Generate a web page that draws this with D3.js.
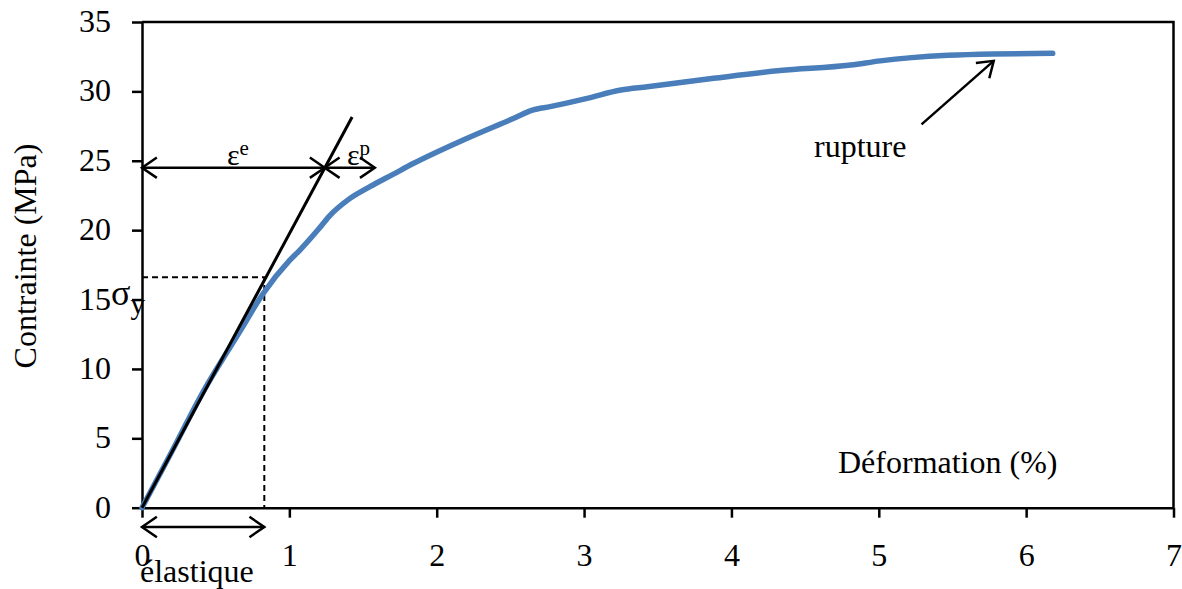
<!DOCTYPE html>
<html>
<head>
<meta charset="utf-8">
<script src="https://cdn.jsdelivr.net/npm/d3@7"></script>
<style>
  body { margin: 0; background: #fff; }
  svg { display: block; font-family: "Liberation Serif", "Times New Roman", serif; }
</style>
</head>
<body>
<script>
// stress-strain curve
const strain = [0, 0.2, 0.41, 0.67, 0.82, 1.0, 1.07, 1.2, 1.27, 1.4, 1.55, 1.7, 1.84, 2.18, 2.52, 2.65, 2.77, 3.02, 3.25, 3.43, 3.88, 4.33, 4.81, 5.01, 5.47, 5.78, 6.18];
const stress = [0, 4.0, 8.26, 12.8, 15.4, 17.8, 18.55, 20.1, 21.0, 22.2, 23.15, 24.0, 24.8, 26.5, 28.05, 28.65, 28.9, 29.5, 30.1, 30.33, 30.94, 31.5, 31.9, 32.2, 32.6, 32.7, 32.74];

const xTicks = [0, 1, 2, 3, 4, 5, 6, 7];
const yTicks = [0, 5, 10, 15, 20, 25, 30, 35];

// elastic tangent line and construction marks
const tangentX = [0, 1.426];
const tangentY = [0, 28.15];
const yieldPoint = [0.83, 16.6];
const epsLevel = 24.5;
const epsSplit = 1.24;
const epsPEnd = 1.58;
const ruptureFrom = [5.29, 27.62];
const ruptureTo = [5.78, 32.2];

const W = 1182, H = 589;
const x = d3.scaleLinear().domain([0, 7]).range([142, 1173.5]);
const y = d3.scaleLinear().domain([0, 35]).range([507.7, 22]);

const svg = d3.select("body").append("svg")
    .attr("width", W)
    .attr("height", H);

const fs = 32;

// frame (top + right)
svg.append("path")
    .attr("d", `M${x(0)},${y(35)}H${x(7)}V${y(0)}`)
    .attr("fill", "none")
    .attr("stroke", "#000")
    .attr("stroke-width", 2.5);

const gx = svg.append("g")
    .attr("transform", `translate(0,${y(0)})`)
    .call(d3.axisBottom(x).tickValues(xTicks).tickSize(10).tickSizeOuter(0).tickFormat(d3.format("d")));
gx.selectAll("text").attr("y", 58).attr("dy", 0);

const gy = svg.append("g")
    .attr("transform", `translate(${x(0)},0)`)
    .call(d3.axisLeft(y).tickValues(yTicks).tickSize(10).tickSizeOuter(0).tickPadding(21));

[gx, gy].forEach(g => {
    g.select(".domain").attr("stroke-width", 2.5);
    g.selectAll(".tick line").attr("stroke-width", 2.5);
    g.selectAll("text").attr("font-size", fs).attr("font-family", "Liberation Serif").attr("fill", "#000");
});
gy.selectAll("text").attr("dy", "0.3em");

// axis titles
svg.append("text")
    .attr("transform", `translate(36,256) rotate(-90)`)
    .attr("text-anchor", "middle")
    .attr("font-size", fs)
    .text("Contrainte (MPa)");

svg.append("text")
    .attr("x", 838).attr("y", 473)
    .attr("font-size", fs)
    .text("Déformation (%)");

// dashed yield lines
svg.append("path")
    .attr("d", `M${x(0)},${y(yieldPoint[1])}H${x(yieldPoint[0])}V${y(0)}`)
    .attr("fill", "none")
    .attr("stroke", "#000")
    .attr("stroke-width", 2)
    .attr("stroke-dasharray", "6,4");

// data curve
const line = d3.line().x(d => x(d[0])).y(d => y(d[1])).curve(d3.curveMonotoneX);
svg.append("path")
    .datum(strain.map((s, i) => [s, stress[i]]))
    .attr("d", line)
    .attr("fill", "none")
    .attr("stroke", "#4A7EBB")
    .attr("stroke-width", 5.5)
    .attr("stroke-linejoin", "round")
    .attr("stroke-linecap", "round");

// elastic tangent
svg.append("line")
    .attr("x1", x(tangentX[0])).attr("y1", y(tangentY[0]))
    .attr("x2", x(tangentX[1])).attr("y2", y(tangentY[1]))
    .attr("stroke", "#000")
    .attr("stroke-width", 3);

// open arrow helper
function arrowHead(px, py, angle) {
    const len = 18, spread = 0.6;
    const p = d3.path();
    p.moveTo(px + len * Math.cos(angle + Math.PI - spread), py + len * Math.sin(angle + Math.PI - spread));
    p.lineTo(px, py);
    p.lineTo(px + len * Math.cos(angle + Math.PI + spread), py + len * Math.sin(angle + Math.PI + spread));
    return p.toString();
}

function arrow(x1, y1, x2, y2, both) {
    const a = Math.atan2(y2 - y1, x2 - x1);
    const g = svg.append("g")
        .attr("fill", "none")
        .attr("stroke", "#000")
        .attr("stroke-width", 2.5);
    g.append("line").attr("x1", x1).attr("y1", y1).attr("x2", x2).attr("y2", y2);
    g.append("path").attr("d", arrowHead(x2, y2, a));
    if (both) g.append("path").attr("d", arrowHead(x1, y1, a + Math.PI));
}

arrow(x(0), y(epsLevel), x(epsSplit), y(epsLevel), true);
arrow(x(epsSplit), y(epsLevel), x(epsPEnd), y(epsLevel), true);
arrow(x(0), 527, x(yieldPoint[0]), 527, true);
arrow(x(ruptureFrom[0]), y(ruptureFrom[1]), x(ruptureTo[0]), y(ruptureTo[1]), false);

// labels
const epsE = svg.append("text").attr("x", 227).attr("y", 165).attr("font-size", 30);
epsE.append("tspan").text("ε");
epsE.append("tspan").attr("font-size", 21).attr("dy", -10).text("e");

const epsP = svg.append("text").attr("x", 347).attr("y", 165).attr("font-size", 30);
epsP.append("tspan").text("ε");
epsP.append("tspan").attr("font-size", 21).attr("dy", -10).text("p");

const sig = svg.append("text").attr("x", 111).attr("y", 305).attr("font-size", 36);
sig.append("tspan").text("σ");
sig.append("tspan").attr("font-size", 29).attr("dy", 9).text("y");

svg.append("text")
    .attr("x", 140).attr("y", 582)
    .attr("font-size", fs)
    .text("élastique");

svg.append("text")
    .attr("x", 814).attr("y", 157)
    .attr("font-size", fs)
    .text("rupture");
</script>
</body>
</html>
